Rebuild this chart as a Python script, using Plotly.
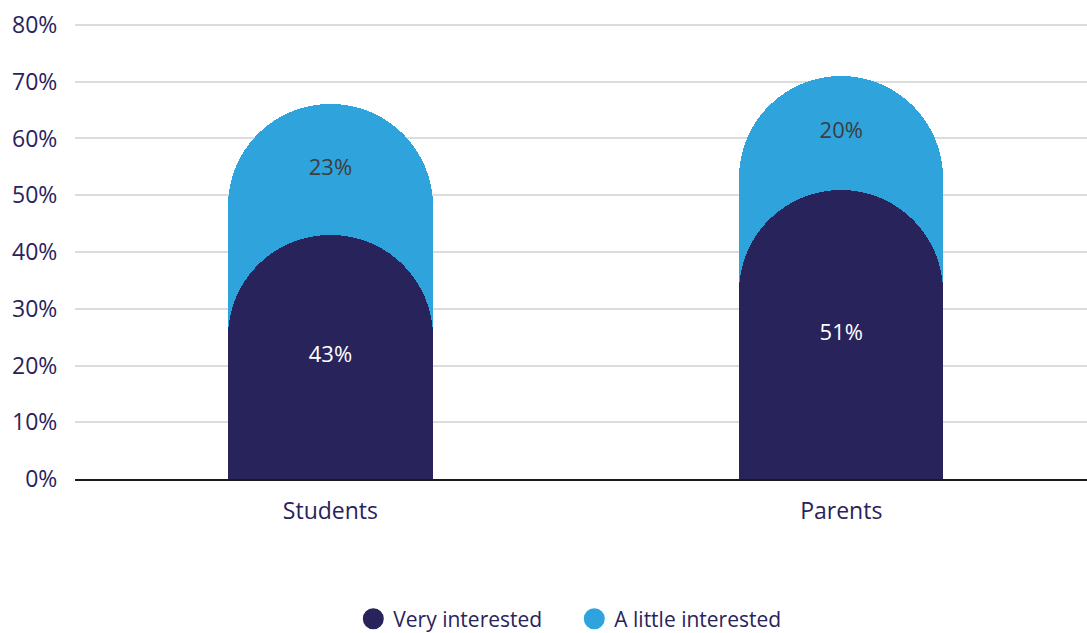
import plotly.graph_objects as go

# Survey groups and share of respondents by level of interest (%)
groups = ["Students", "Parents"]
very_interested = [43, 51]
little_interested = [23, 20]
tick_vals = [0, 10, 20, 30, 40, 50, 60, 70, 80]
tick_text = [f"{v}%" for v in tick_vals]

DARK = "#29235c"
LIGHT = "#2ea3dc"
FONT = "'Open Sans', sans-serif"
FS = 23

totals = [a + b for a, b in zip(very_interested, little_interested)]
mid_dark = [v / 2 for v in very_interested]
mid_light = [a + b / 2 for a, b in zip(very_interested, little_interested)]

X_RANGE = [-0.5, 1.481]
Y_RANGE = [0, 80.35]

fig = go.Figure()

# Back bar: full height (very + a little), rounded cap
fig.add_trace(go.Bar(
    x=groups, y=totals, width=0.4,
    marker=dict(color=LIGHT, cornerradius="50%", line=dict(width=0)),
    showlegend=False, hoverinfo="skip",
))
# Front bar on overlaid axes so its own cap is rounded too
fig.add_trace(go.Bar(
    x=groups, y=very_interested, width=0.4, xaxis="x2", yaxis="y2",
    marker=dict(color=DARK, cornerradius="50%", line=dict(width=0)),
    showlegend=False, hoverinfo="skip",
))

# Segment value labels
fig.add_trace(go.Scatter(
    x=groups, y=mid_dark, mode="text", xaxis="x2", yaxis="y2",
    text=[f"{v}%" for v in very_interested],
    textfont=dict(color="white", size=FS - 1, family=FONT),
    showlegend=False, hoverinfo="skip",
))
fig.add_trace(go.Scatter(
    x=groups, y=mid_light, mode="text", xaxis="x2", yaxis="y2",
    text=[f"{v}%" for v in little_interested],
    textfont=dict(color="#3d3d3d", size=FS - 1, family=FONT),
    showlegend=False, hoverinfo="skip",
))

# Legend entries
for name, color in [("Very interested", DARK), ("A little interested", LIGHT)]:
    fig.add_trace(go.Scatter(
        x=[None], y=[None], mode="markers", name=name,
        marker=dict(symbol="circle", size=16, color=color,
                    line=dict(color=color, width=5)),
    ))

fig.update_layout(
    width=1087, height=633,
    margin=dict(l=74.5, r=0, t=23, b=154, autoexpand=False),
    paper_bgcolor="white", plot_bgcolor="white",
    barmode="overlay", bargap=0,
    font=dict(family=FONT, size=FS, color=DARK),
    showlegend=True,
    legend=dict(
        orientation="h", x=0.275, xanchor="left",
        y=0.022, yref="container", yanchor="middle",
        entrywidth=176, entrywidthmode="pixels",
        font=dict(size=21, color=DARK, family=FONT),
        itemclick=False, itemdoubleclick=False,
    ),
    xaxis=dict(
        range=X_RANGE, showgrid=False, zeroline=False,
        showline=True, linecolor="#1a1a1a", linewidth=2,
        ticks="outside", ticklen=10, tickcolor="rgba(0,0,0,0)",
        tickfont=dict(size=FS, color=DARK, family=FONT),
        fixedrange=True, automargin=False,
    ),
    yaxis=dict(
        range=Y_RANGE, tickvals=tick_vals, ticktext=tick_text,
        showgrid=True, gridcolor="#dcdcdc", gridwidth=2,
        zeroline=False, showline=False,
        ticks="outside", ticklen=12, tickcolor="rgba(0,0,0,0)",
        tickfont=dict(size=FS, color=DARK, family=FONT),
        fixedrange=True, automargin=False,
    ),
    xaxis2=dict(range=X_RANGE, overlaying="x", visible=False, fixedrange=True),
    yaxis2=dict(range=Y_RANGE, overlaying="y", visible=False, fixedrange=True),
)

fig.write_html("out.html")
